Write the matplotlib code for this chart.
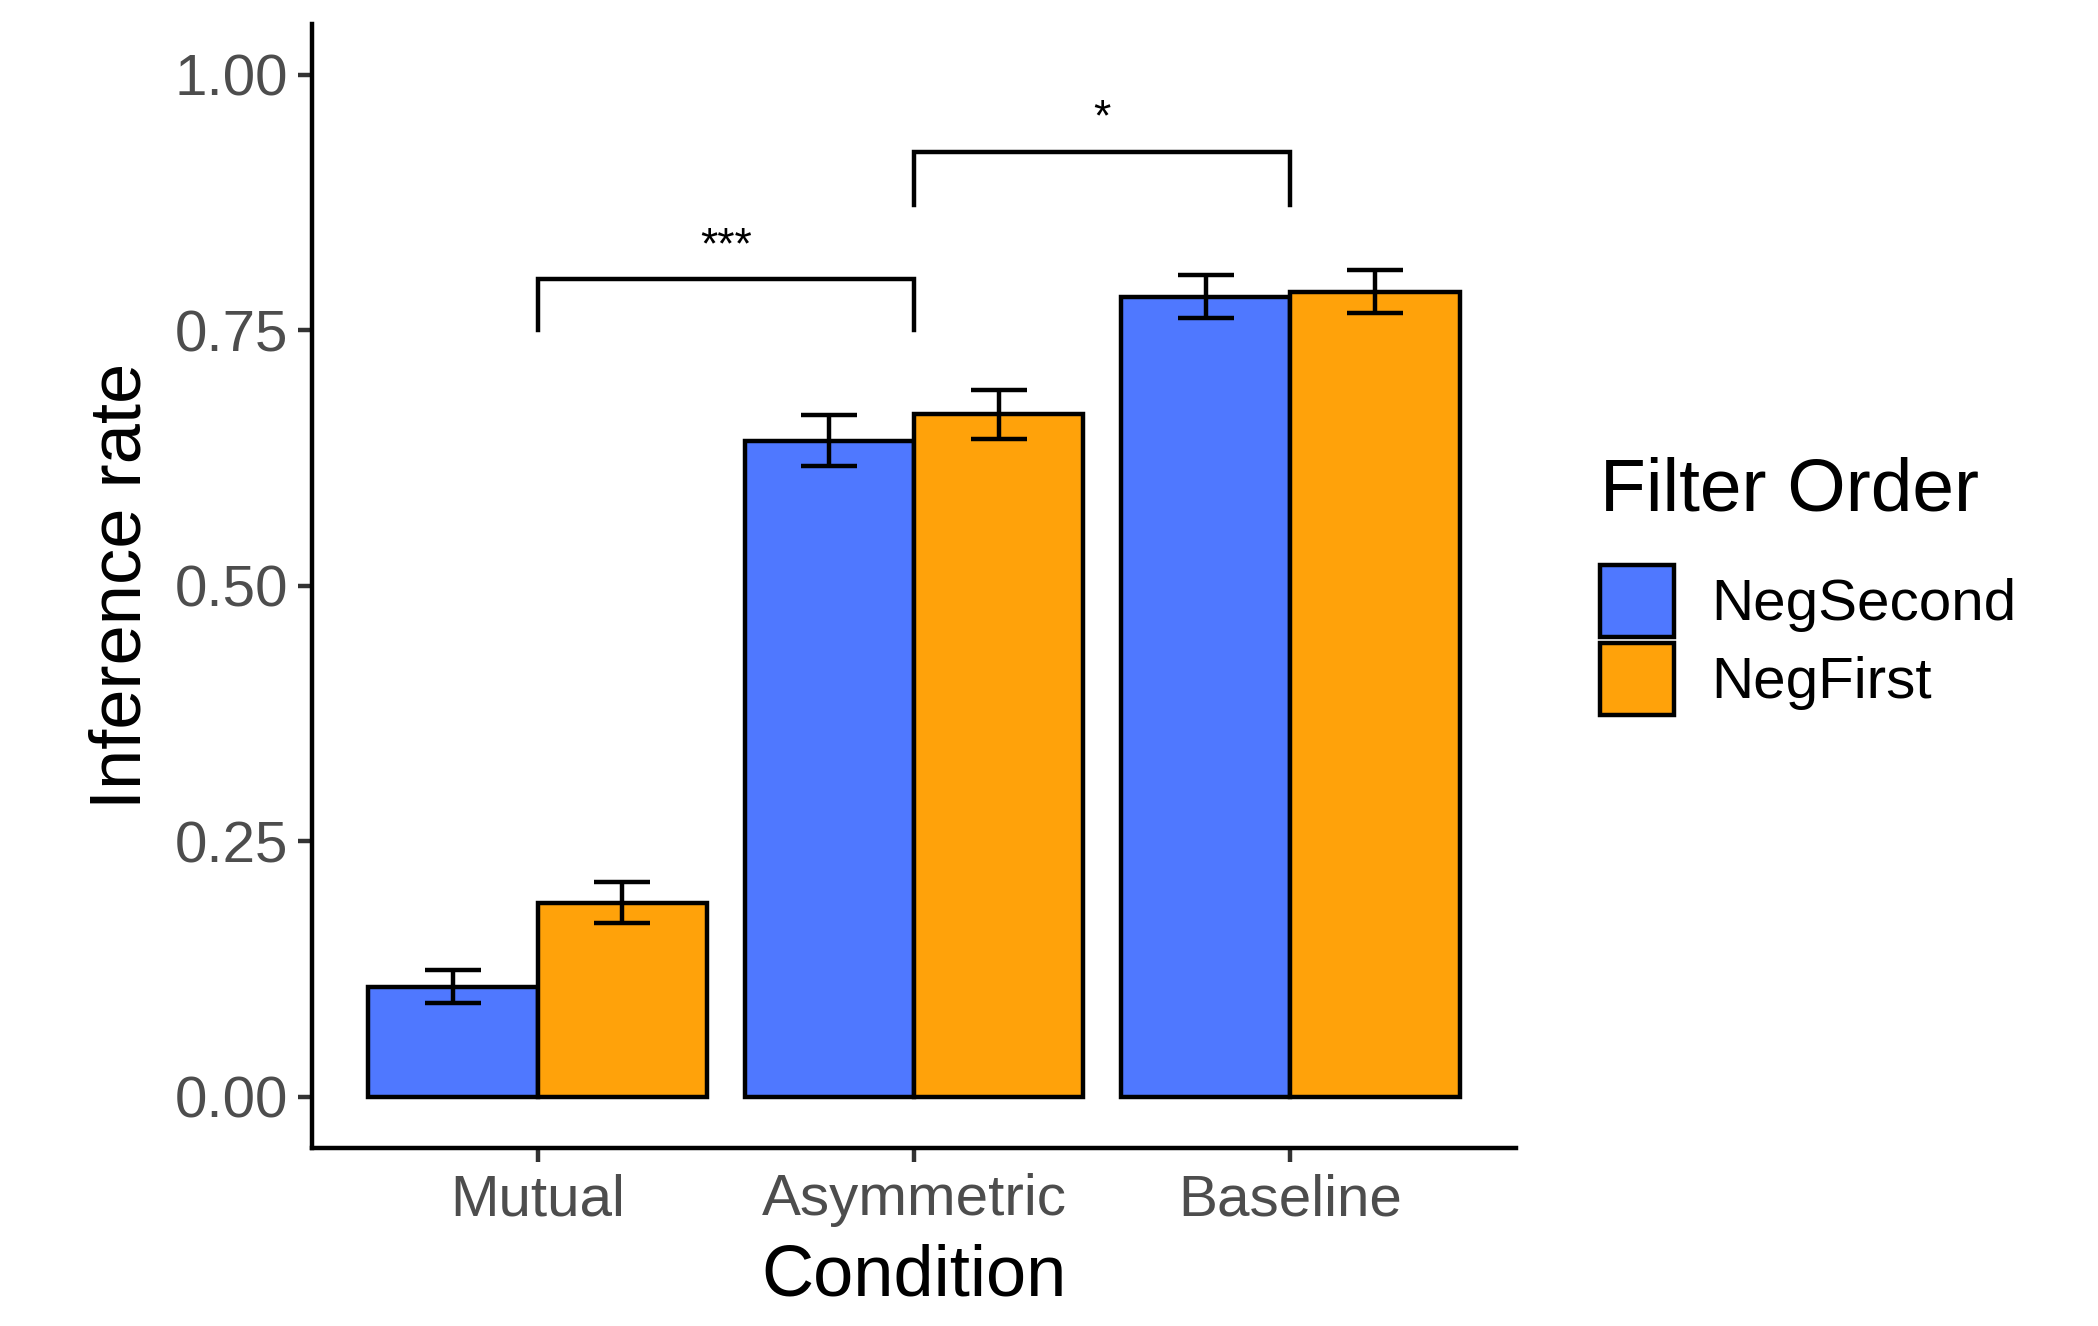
import numpy as np
import matplotlib
matplotlib.use("Agg")
import matplotlib.pyplot as plt

plt.rcParams['font.family'] = ['Liberation Sans', 'DejaVu Sans']

conditions = ["Mutual", "Asymmetric", "Baseline"]
orders = ["NegSecond", "NegFirst"]
neg_second = [0.108, 0.642, 0.783]
neg_second_se = [0.016, 0.025, 0.021]
neg_first = [0.190, 0.668, 0.788]
neg_first_se = [0.020, 0.024, 0.021]
colors = ["#4F78FF", "#FFA20A"]

# significance brackets: (from, to, bracket top, leg bottom, label)
brackets = [(0, 1, 0.80, 0.75, "***"), (1, 2, 0.925, 0.873, "*")]

fig = plt.figure(figsize=(2098 / 200, 1326 / 200), dpi=200)
ax = fig.add_axes([0.1487, 0.1342, 0.7226 - 0.1487, 0.982 - 0.1342])

x = np.arange(len(conditions))
w = 0.45
lw = 1.6
for k, (vals, se) in enumerate([(neg_second, neg_second_se), (neg_first, neg_first_se)]):
    pos = x + (k - 0.5) * w
    ax.bar(pos, vals, width=w, color=colors[k], edgecolor="black", linewidth=lw,
           label=orders[k], zorder=2)
    ax.errorbar(pos, vals, yerr=se, fmt="none", ecolor="black", elinewidth=lw,
                capsize=10, capthick=lw, zorder=3)

for a, b, top, bottom, lab in brackets:
    ax.plot([a, a, b, b], [bottom, top, top, bottom], color="black", lw=lw,
            solid_joinstyle="miter", zorder=3)
    ax.text((a + b) / 2, top + 0.012, lab, ha="center", va="bottom", fontsize=16)

ax.set_xlim(-0.6, 2.6)
ax.set_ylim(-0.05, 1.05)
ax.set_xticks(x)
ax.set_xticklabels(conditions)
ax.set_yticks([0, 0.25, 0.5, 0.75, 1.0])
ax.set_yticklabels(["0.00", "0.25", "0.50", "0.75", "1.00"])
ax.tick_params(axis="both", labelsize=21, labelcolor="#4D4D4D", color="#333333",
               length=5, width=lw)
ax.tick_params(axis="x", pad=4)
for s in ["top", "right"]:
    ax.spines[s].set_visible(False)
for s in ["left", "bottom"]:
    ax.spines[s].set_linewidth(lw)

ax.set_xlabel("Condition", fontsize=26, labelpad=6)
ax.set_ylabel("Inference rate", fontsize=26, labelpad=7)

leg = ax.legend(title="Filter Order", loc="center left", bbox_to_anchor=(1.05, 0.5),
                frameon=False, fontsize=21, title_fontsize=27, handlelength=1.27,
                handleheight=1.53, labelspacing=0.1, handletextpad=0.65,
                borderaxespad=0)
leg._legend_box.align = "left"
leg._legend_box.sep = 14
for h in leg.legend_handles:
    h.set_linewidth(lw)

fig.savefig("out.png", dpi=200)
